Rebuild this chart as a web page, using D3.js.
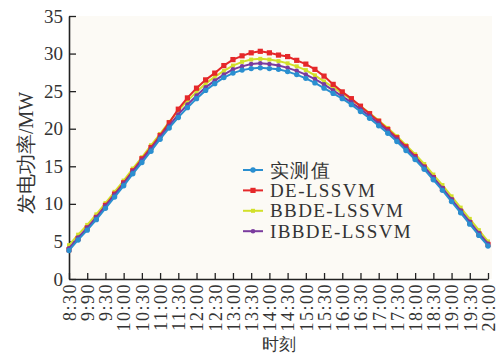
<!DOCTYPE html>
<html><head><meta charset="utf-8">
<script src="https://cdn.jsdelivr.net/npm/d3@7"></script>
<style>html,body{margin:0;padding:0;background:#fff;overflow:hidden}svg{display:block}</style>
</head><body>
<svg id="chart" width="501" height="353"></svg>
<script>
const times = ["8:30","8:45","9:00","9:15","9:30","9:45","10:00","10:15","10:30","10:45","11:00","11:15","11:30","11:45","12:00","12:15","12:30","12:45","13:00","13:15","13:30","13:45","14:00","14:15","14:30","14:45","15:00","15:15","15:30","15:45","16:00","16:15","16:30","16:45","17:00","17:15","17:30","17:45","18:00","18:15","18:30","18:45","19:00","19:15","19:30","19:45","20:00"];
const tickLabels = ["8:30","9:90","9:30","10:00","10:30","11:00","11:30","12:00","12:30","13:00","13:30","14:00","14:30","15:00","15:30","16:00","16:30","17:00","17:30","18:00","18:30","19:00","19:30","20:00"];
const yTicks = [0,5,10,15,20,25,30,35];
const seriesNames = ["实测值","DE-LSSVM","BBDE-LSSVM","IBBDE-LSSVM"];
const measured = [3.8,5.2,6.5,7.9,9.4,10.9,12.4,14.0,15.5,17.0,18.6,20.1,21.5,22.8,24.0,25.1,26.0,26.8,27.4,27.8,28.0,28.1,28.0,27.9,27.6,27.2,26.7,26.1,25.4,24.7,24.0,23.2,22.3,21.4,20.4,19.4,18.3,17.1,15.9,14.6,13.2,11.8,10.3,8.8,7.3,5.8,4.4];
const deLssvm = [3.9,5.4,6.8,8.2,9.8,11.3,12.8,14.4,16.0,17.5,19.1,20.8,22.6,24.1,25.4,26.5,27.4,28.4,29.2,29.7,30.1,30.3,30.1,29.8,29.6,29.1,28.6,27.9,27.0,25.9,24.9,24.0,23.0,22.0,21.0,19.9,18.8,17.6,16.3,14.9,13.5,12.0,10.5,9.0,7.5,6.0,4.6];
const bbdeLssvm = [4.5,5.9,7.2,8.6,10.1,11.6,13.1,14.7,16.2,17.8,19.3,20.9,22.4,23.7,24.9,26.0,26.9,27.7,28.4,28.9,29.2,29.3,29.2,29.0,28.7,28.3,27.8,27.1,26.3,25.5,24.7,23.9,23.0,22.1,21.1,20.1,19.0,17.8,16.6,15.3,13.9,12.5,11.0,9.5,8.0,6.5,5.0];
const ibbdeLssvm = [4.1,5.5,6.8,8.2,9.7,11.2,12.7,14.3,15.8,17.3,18.9,20.4,21.9,23.2,24.4,25.5,26.4,27.2,27.9,28.3,28.6,28.7,28.6,28.4,28.1,27.7,27.2,26.6,25.9,25.1,24.3,23.5,22.6,21.7,20.7,19.7,18.6,17.4,16.2,14.9,13.5,12.1,10.6,9.1,7.6,6.1,4.7];
const colors = ["#2a8fd0","#e5282a","#d2e02a","#7a3b9e"];

const svg = d3.select("#chart");
const L = 69, R = 488, T = 16, B = 279;
const x = d3.scalePoint().domain(times).range([L, R]);
const y = d3.scaleLinear().domain([0, 35]).range([B, T]);
const font = "'Liberation Serif','Times New Roman',serif";

svg.append("rect").attr("x", L).attr("y", T).attr("width", R - L + 4).attr("height", B - T).attr("fill", "#fcfaf5");

// Y axis
const yAxis = svg.append("g").attr("transform", `translate(${L},0)`)
  .call(d3.axisLeft(y).tickValues(yTicks).tickSizeInner(-7).tickSizeOuter(0).tickPadding(6));
yAxis.select(".domain").attr("stroke", "#222").attr("stroke-width", 1.6);
yAxis.selectAll(".tick line").attr("stroke", "#222").attr("stroke-width", 1.3);
yAxis.selectAll(".tick text").attr("font-family", font).attr("font-size", 19).attr("fill", "#333").attr("x", -6);

// X axis
const tickTimes = times.filter((d, i) => i % 2 === 0);
const xAxis = svg.append("g").attr("transform", `translate(0,${B})`)
  .call(d3.axisBottom(x).tickValues(tickTimes).tickFormat((d, i) => tickLabels[i]).tickSizeInner(-6).tickSizeOuter(0));
xAxis.select(".domain").attr("stroke", "#222").attr("stroke-width", 1.6);
xAxis.selectAll(".tick line").attr("stroke", "#222").attr("stroke-width", 1.3);
xAxis.selectAll(".tick text")
  .attr("font-family", font).attr("font-size", 18).attr("fill", "#333")
  .attr("text-anchor", "end").attr("transform", "rotate(-90)")
  .attr("x", -4).attr("y", 0).attr("dy", "0.35em").attr("letter-spacing", 1.5);

// axis titles
svg.append("text").attr("transform", `translate(26,153) rotate(-90)`)
  .attr("text-anchor", "middle").attr("dy", "0.35em")
  .attr("font-family", font).attr("font-size", 20).attr("fill", "#333").text("发电功率/MW");
svg.append("text").attr("x", 279).attr("y", 350).attr("text-anchor", "middle")
  .attr("font-family", font).attr("font-size", 17).attr("fill", "#333").text("时刻");

// series
const data = [measured, deLssvm, bbdeLssvm, ibbdeLssvm];
const line = d3.line().x((d, i) => x(times[i])).y(d => y(d));
const order = [2, 1, 3, 0];
const markerDraw = (g, k, cx, cy) => {
  if (k === 1) g.append("rect").attr("x", cx - 2.6).attr("y", cy - 2.6).attr("width", 5.2).attr("height", 5.2).attr("fill", colors[k]);
  else if (k === 2) g.append("rect").attr("x", cx - 2).attr("y", cy - 2).attr("width", 4).attr("height", 4).attr("fill", colors[k]);
  else g.append("circle").attr("cx", cx).attr("cy", cy).attr("r", k === 0 ? 2.7 : 2.3).attr("fill", colors[k]);
};
order.forEach(k => {
  const g = svg.append("g");
  g.append("path").datum(data[k]).attr("d", line).attr("fill", "none")
    .attr("stroke", colors[k]).attr("stroke-width", 2);
  data[k].forEach((v, i) => markerDraw(g, k, x(times[i]), y(v)));
});

// legend
const lg = svg.append("g");
seriesNames.forEach((name, k) => {
  const cy = 170 + k * 20.4;
  lg.append("line").attr("x1", 243).attr("x2", 263).attr("y1", cy).attr("y2", cy)
    .attr("stroke", colors[k]).attr("stroke-width", 2);
  markerDraw(lg, k, 253, cy);
  lg.append("text").attr("x", 270).attr("y", cy).attr("dy", "0.35em")
    .attr("font-family", font).attr("font-size", 19).attr("letter-spacing", 1.4).attr("fill", "#333").text(name);
});
</script>
</body></html>
